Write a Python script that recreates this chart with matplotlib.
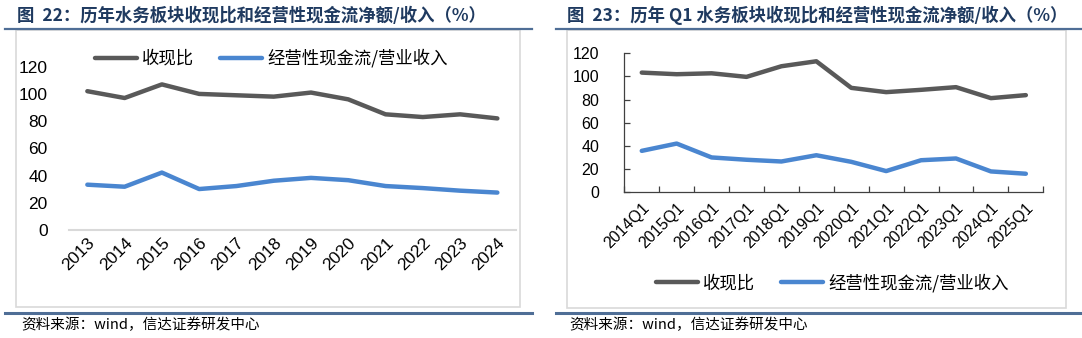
import matplotlib
matplotlib.use("Agg")
import matplotlib.pyplot as plt
from matplotlib.patches import Rectangle
from matplotlib.lines import Line2D
import numpy as np

plt.rcParams['font.family'] = ['Liberation Sans', 'Noto Sans CJK SC', 'DejaVu Sans']
CJK = ['Noto Sans CJK SC', 'DejaVu Sans']

# ---- data ----
years = ['2013', '2014', '2015', '2016', '2017', '2018',
         '2019', '2020', '2021', '2022', '2023', '2024']
ratio_year = [102, 97, 107, 100, 99, 98, 101, 96, 85, 83, 85, 82]
ocf_year = [33.3, 31.8, 42.2, 30.1, 32.3, 36.2, 38.3, 36.6, 32.3, 30.8, 28.9, 27.5]

quarters = ['2014Q1', '2015Q1', '2016Q1', '2017Q1', '2018Q1', '2019Q1',
            '2020Q1', '2021Q1', '2022Q1', '2023Q1', '2024Q1', '2025Q1']
ratio_q1 = [103.3, 101.9, 102.7, 99.6, 108.8, 113.1, 90.1, 86.4, 88.4, 90.7, 81.2, 83.8]
ocf_q1 = [35.6, 41.9, 29.9, 27.9, 26.4, 31.8, 26.1, 18.1, 27.5, 29.0, 17.8, 15.8]

yticks = [0, 20, 40, 60, 80, 100, 120]
series_names = ['收现比', '经营性现金流/营业收入']
title_left = '图  22：历年水务板块收现比和经营性现金流净额/收入（%）'
title_right = '图  23：历年 Q1 水务板块收现比和经营性现金流净额/收入（%）'
source = '资料来源：wind，信达证券研发中心'

GRAY = '#595959'
BLUE = '#4A86D0'
NAVY = '#1F3A60'
RULE = '#4F6E96'
BOX = '#D9D9D9'

W, H = 1082, 338
fig = plt.figure(figsize=(W / 100, H / 100), dpi=100)


def fx(px):
    return px / W


def fy(py):
    return 1 - py / H


def hline(x0, x1, y, color, lw):
    fig.add_artist(Line2D([fx(x0), fx(x1)], [fy(y), fy(y)], color=color, lw=lw,
                          transform=fig.transFigure))


def box(x0, y0, x1, y1):
    fig.add_artist(Rectangle((fx(x0), fy(y1)), fx(x1) - fx(x0), fy(y0) - fy(y1),
                             fill=False, ec=BOX, lw=1.2, transform=fig.transFigure))


# frames, rules, titles, sources
box(16, 30, 520, 306.5)
box(566.5, 30, 1065.5, 308)
hline(5, 532, 29.3, RULE, 1.6)
hline(556, 1082, 29.3, RULE, 1.6)
hline(5, 532, 313.3, RULE, 2.2)
hline(556, 1082, 312.7, RULE, 2.2)

fig.text(fx(17), fy(15.5), title_left, family=CJK, fontsize=12.5, fontweight='bold',
         color=NAVY, va='center', ha='left')
fig.text(fx(567), fy(15.5), title_right, family=CJK, fontsize=12.5, fontweight='bold',
         color=NAVY, va='center', ha='left')
fig.text(fx(21), fy(325), source, family=CJK, fontsize=10.5, style='italic',
         va='center', ha='left')
fig.text(fx(569), fy(325), source, family=CJK, fontsize=10.5, style='italic',
         va='center', ha='left')


def add_axes(x0, x1, ytop, ybot):
    return fig.add_axes([fx(x0), fy(ybot), fx(x1) - fx(x0), (ybot - ytop) / H])


# ---- left chart ----
ax1 = add_axes(68.7, 516, 66.7, 230)
x = np.arange(len(years))
l1, = ax1.plot(x, ratio_year, color=GRAY, lw=3.2, solid_capstyle='round')
l2, = ax1.plot(x, ocf_year, color=BLUE, lw=3.2, solid_capstyle='round')
ax1.set_xlim(-0.5, len(years) - 0.5)
ax1.set_ylim(0, 120)
ax1.set_yticks(yticks)
ax1.set_xticks(x)
ax1.set_xticklabels(years, rotation=45, ha='right', rotation_mode='anchor')
for s in ['top', 'right', 'left']:
    ax1.spines[s].set_visible(False)
ax1.spines['bottom'].set_color(BOX)
ax1.spines['bottom'].set_linewidth(1.5)
ax1.tick_params(axis='y', length=0, pad=15, labelsize=12.5)
ax1.tick_params(axis='x', length=0, pad=4, labelsize=12.5)
ax1.patch.set_visible(False)
ax1.legend([l1, l2], series_names, ncol=2, loc='center left',
           bbox_to_anchor=(fx(95), fy(58.3)), bbox_transform=fig.transFigure,
           frameon=False, prop={'family': CJK, 'size': 12.5}, handlelength=2.4,
           handletextpad=0.3, columnspacing=1.5, borderpad=0, borderaxespad=0)

# ---- right chart ----
ax2 = add_axes(624.3, 1043.3, 53.3, 192)
x = np.arange(len(quarters))
r1, = ax2.plot(x, ratio_q1, color=GRAY, lw=3.2, solid_capstyle='round')
r2, = ax2.plot(x, ocf_q1, color=BLUE, lw=3.2, solid_capstyle='round')
ax2.set_xlim(-0.5, len(quarters) - 0.5)
ax2.set_ylim(0, 120)
ax2.set_yticks(yticks)
ax2.set_xticks(x)
ax2.set_xticklabels(quarters, rotation=45, ha='right', rotation_mode='anchor')
ax2.set_xticks(np.arange(len(quarters) + 1) - 0.5, minor=True)
for s in ['top', 'right']:
    ax2.spines[s].set_visible(False)
for s in ['left', 'bottom']:
    ax2.spines[s].set_color('#404040')
    ax2.spines[s].set_linewidth(0.9)
ax2.tick_params(axis='y', direction='in', length=4, width=0.9, color='#404040',
                pad=18, labelsize=11.5)
ax2.tick_params(axis='x', which='major', length=0, pad=6, labelsize=11.5)
ax2.tick_params(axis='x', which='minor', direction='in', length=4, width=0.9,
                color='#404040')
ax2.patch.set_visible(False)
ax2.legend([r1, r2], series_names, ncol=2, loc='center left',
           bbox_to_anchor=(fx(656), fy(282.7)), bbox_transform=fig.transFigure,
           frameon=False, prop={'family': CJK, 'size': 12.5}, handlelength=2.4,
           handletextpad=0.3, columnspacing=1.5, borderpad=0, borderaxespad=0)

fig.savefig('out.png', dpi=100)
